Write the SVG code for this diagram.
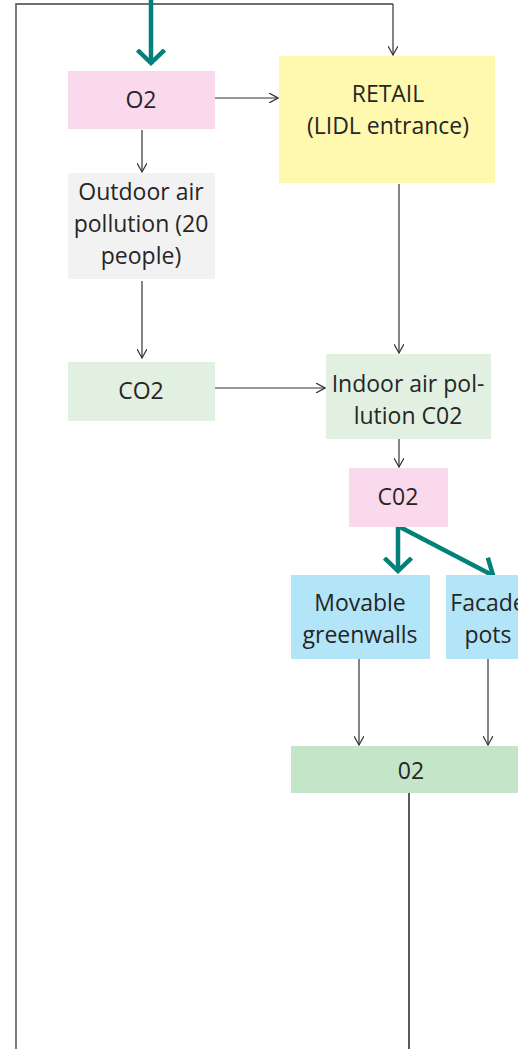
<svg xmlns="http://www.w3.org/2000/svg" width="518" height="1049" viewBox="0 0 518 1049">
<style>
.t{font-family:"Open Sans",Lato,sans-serif;font-size:23px;fill:#262626;text-anchor:middle}
.c{fill:none;stroke:#333;stroke-width:1.2}
.g{fill:none;stroke:#6e6e6e;stroke-width:1.8}
.k{fill:none;stroke:#00827a;stroke-width:4.5}
</style>
<defs>
<marker id="a" viewBox="0 0 10 10" refX="9" refY="5" markerWidth="10" markerHeight="10" markerUnits="userSpaceOnUse" orient="auto">
<path d="M0,0 L9,5 L0,10" fill="none" stroke="#333" stroke-width="1.2"/>
</marker>
<marker id="b" viewBox="0 0 18 30" refX="15" refY="15" markerWidth="18" markerHeight="30" markerUnits="userSpaceOnUse" orient="auto">
<path d="M1,1.5 L14,15 L1,28.5" fill="none" stroke="#00827a" stroke-width="4.5"/>
</marker>
</defs>
<g id="connectors">
<path class="g" d="M16,1049 V4 H393"/>
<path class="c" d="M393,4 V55" marker-end="url(#a)"/>
<path class="k" d="M151,0 V64" marker-end="url(#b)"/>
<path class="c" d="M215,98 H278" marker-end="url(#a)"/>
<path class="c" d="M142,130 V172" marker-end="url(#a)"/>
<path class="c" d="M142,281 V358" marker-end="url(#a)"/>
<path class="c" d="M215,388 H325" marker-end="url(#a)"/>
<path class="c" d="M399,184 V353" marker-end="url(#a)"/>
<path class="c" d="M399,439 V467" marker-end="url(#a)"/>
<path class="k" d="M398,526 V572" marker-end="url(#b)"/>
<path class="k" d="M398,526 L494,576" marker-end="url(#b)"/>
<path class="c" d="M359,659 V745" marker-end="url(#a)"/>
<path class="c" d="M488,659 V745" marker-end="url(#a)"/>
<path d="M409,793 V1049" fill="none" stroke="#222" stroke-width="1.5"/>
</g>
<g id="o2"><rect x="68" y="71" width="147" height="58" fill="#fbd9ec"/><text class="t" x="141" y="108">O2</text></g>
<g id="retail"><rect x="279" y="56" width="216" height="127" fill="#fff9b0"/><text class="t" x="388" y="102">RETAIL</text><text class="t" x="388" y="134">(LIDL entrance)</text></g>
<g id="outdoor"><rect x="68" y="173" width="147" height="106" fill="#f2f2f2"/><text class="t" x="141" y="200">Outdoor air</text><text class="t" x="141" y="232">pollution (20</text><text class="t" x="141" y="264">people)</text></g>
<g id="co2"><rect x="68" y="362" width="147" height="59" fill="#e1f0e1"/><text class="t" x="141" y="399">CO2</text></g>
<g id="indoor"><rect x="326" y="354" width="165" height="85" fill="#e1f0e1"/><text class="t" x="408" y="392">Indoor air pol-</text><text class="t" x="408" y="424">lution C02</text></g>
<g id="c02"><rect x="349" y="468" width="99" height="59" fill="#fbd9ec"/><text class="t" x="398" y="505">C02</text></g>
<g id="movable"><rect x="291" y="575" width="139" height="84" fill="#b3e5f8"/><text class="t" x="360" y="611">Movable</text><text class="t" x="360" y="643">greenwalls</text></g>
<g id="facade"><rect x="446" y="575" width="84" height="84" fill="#b3e5f8"/><text class="t" x="488" y="611">Facade</text><text class="t" x="488" y="643">pots</text></g>
<g id="o2b"><rect x="291" y="746" width="240" height="47" fill="#c5e5c8"/><text class="t" x="411" y="779">02</text></g>
</svg>
